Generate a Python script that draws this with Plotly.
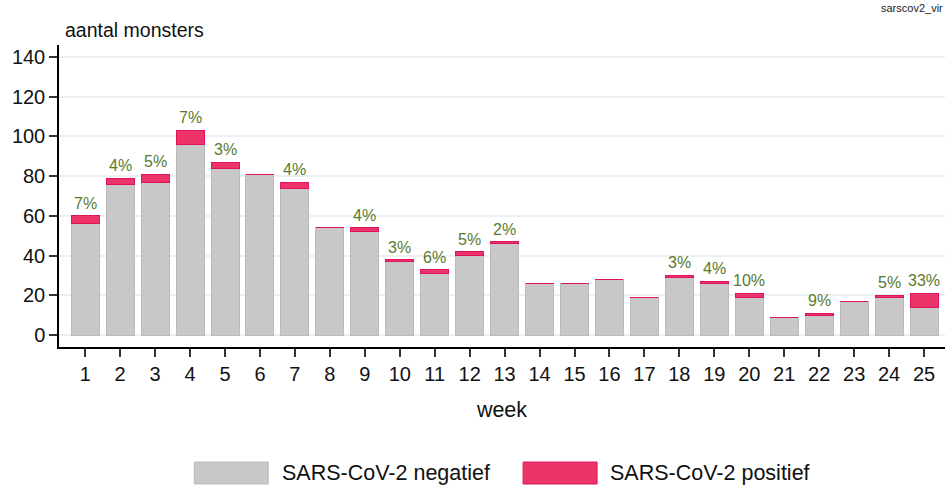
import plotly.graph_objects as go

weeks = list(range(1, 26))
negatief = [56, 76, 77, 96, 84, 81, 74, 54, 52, 37, 31, 40, 46, 26, 26, 28, 19, 29, 26, 19, 9, 10, 17, 19, 14]
positief = [4, 3, 4, 7, 3, 0, 3, 0, 2, 1, 2, 2, 1, 0, 0, 0, 0, 1, 1, 2, 0, 1, 0, 1, 7]
tick_labels = [str(w) for w in weeks]
y_ticks = [0, 20, 40, 60, 80, 100, 120, 140]

FONT = "Liberation Sans, Arial, sans-serif"
GREY = "#c8c8c8"
GREY_LINE = "#bababa"
PINK = "#ec3468"
PINK_LINE = "#e0145c"
LABEL_GREEN = "#5a7a30"

fig = go.Figure()
fig.add_trace(go.Bar(x=weeks, y=negatief, name="SARS-CoV-2 negatief", width=0.8,
                     marker=dict(color=GREY, line=dict(color=GREY_LINE, width=1)),
                     showlegend=False, hoverinfo="x+y"))
fig.add_trace(go.Bar(x=weeks, y=positief, name="SARS-CoV-2 positief", width=0.8,
                     marker=dict(color=PINK, line=dict(color=PINK_LINE, width=1)),
                     showlegend=False, hoverinfo="x+y"))

annotations = []
for w, n, p in zip(weeks, negatief, positief):
    if p > 0:
        tot = n + p
        pct = round(p / tot * 100)
        annotations.append(dict(x=w, y=tot, xref="x", yref="y", text=f"{pct}%",
                                showarrow=False, yanchor="bottom", yshift=2,
                                font=dict(family=FONT, size=16, color=LABEL_GREEN)))

annotations.append(dict(x=0.004, y=1.05, xref="paper", yref="paper", text="aantal monsters",
                        showarrow=False, xanchor="left", yanchor="middle",
                        font=dict(family=FONT, size=19.5, color="#111111")))
annotations.append(dict(x=1.0, y=1.122, xref="paper", yref="paper", text="sarscov2_vir",
                        showarrow=False, xanchor="right", yanchor="middle",
                        font=dict(family="Liberation Sans Narrow, " + FONT, size=11, color="#222222")))

# custom legend (large swatches)
shapes = [
    dict(type="rect", xref="paper", yref="paper", x0=0.1527, x1=0.2362, y0=-0.4536, y1=-0.381,
         fillcolor=GREY, line=dict(color=GREY_LINE, width=1)),
    dict(type="rect", xref="paper", yref="paper", x0=0.5238, x1=0.6073, y0=-0.4536, y1=-0.381,
         fillcolor=PINK, line=dict(color=PINK_LINE, width=1)),
]
annotations.append(dict(x=0.2497, y=-0.417, xref="paper", yref="paper", text="SARS-CoV-2 negatief",
                        showarrow=False, xanchor="left", yanchor="middle",
                        font=dict(family=FONT, size=21.5, color="#111111")))
annotations.append(dict(x=0.6197, y=-0.417, xref="paper", yref="paper", text="SARS-CoV-2 positief",
                        showarrow=False, xanchor="left", yanchor="middle",
                        font=dict(family=FONT, size=21.5, color="#111111")))

fig.update_layout(
    barmode="stack",
    width=952, height=486,
    margin=dict(l=59, r=7, t=45, b=139),
    paper_bgcolor="white", plot_bgcolor="white",
    font=dict(family=FONT, size=20, color="#111111"),
    annotations=annotations,
    shapes=shapes,
    showlegend=False,
)
fig.update_xaxes(
    range=[0.25, 25.6], tickvals=weeks, ticktext=tick_labels,
    showline=True, linecolor="black", linewidth=1.5,
    ticks="outside", ticklen=8, tickcolor="#333333", tickwidth=1.5,
    showgrid=False, zeroline=False,
    tickfont=dict(family=FONT, size=20, color="#111111"),
    title=dict(text="week", font=dict(family=FONT, size=21.5, color="#111111"), standoff=18),
)
fig.update_yaxes(
    range=[-6, 146], tickvals=y_ticks,
    showline=True, linecolor="black", linewidth=1.5,
    ticks="outside", ticklen=8, tickcolor="#333333", tickwidth=1.5,
    showgrid=True, gridcolor="#ebf1f3", gridwidth=2, zeroline=False,
    tickfont=dict(family=FONT, size=20, color="#111111"),
)

fig.write_html("out.html", config={"displayModeBar": False},
               post_script="document.body.style.margin='0';document.body.style.overflow='hidden';")
